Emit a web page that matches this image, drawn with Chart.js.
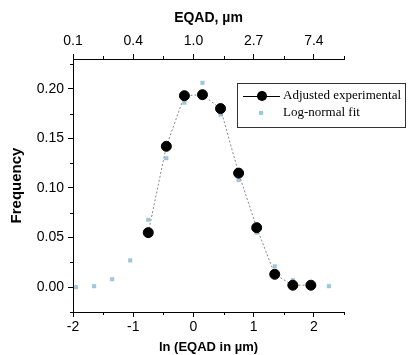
<!DOCTYPE html>
<html><head><meta charset="utf-8">
<script src="https://cdn.jsdelivr.net/npm/chart.js@4.4.0/dist/chart.umd.min.js"></script>
<style>html,body{margin:0;padding:0;background:#fff;} canvas{display:block}</style>
</head><body>
<canvas id="c" width="408" height="355"></canvas>
<script>
// Data
const expX = [-0.75, -0.45, -0.15, 0.15, 0.45, 0.75, 1.05, 1.35, 1.65, 1.95];
const expY = [0.055, 0.142, 0.193, 0.194, 0.180, 0.115, 0.060, 0.013, 0.002, 0.002];
const fitX = [-1.95, -1.65, -1.35, -1.05, -0.75, -0.45, -0.15, 0.15, 0.45, 0.75, 1.05, 1.35, 1.65, 1.95, 2.25];
const fitY = [0.000, 0.001, 0.008, 0.027, 0.068, 0.130, 0.186, 0.206, 0.174, 0.108, 0.055, 0.021, 0.007, 0.002, 0.001];
const xTicks = [-2, -1, 0, 1, 2];
const xMinor = [-1.5, -0.5, 0.5, 1.5, 2.5];
const topTickLabels = ["0.1", "0.4", "1.0", "2.7", "7.4"];
const yTicks = [0, 0.05, 0.10, 0.15, 0.20];
const yMinor = [-0.025, 0.025, 0.075, 0.125, 0.175, 0.225];
const seriesNames = ["Adjusted experimental", "Log-normal fit"];

const FONT = "'Liberation Sans', Arial, sans-serif";
const SERIF = "'Liberation Serif', 'Times New Roman', serif";
const FIT_COLOR = 'rgba(120,195,205,0.8)';
const FIT_BORDER = 'rgba(150,165,225,0.8)';

const extras = {
  id: 'extras',
  afterDraw(chart) {
    const ctx = chart.ctx;
    const xs = chart.scales.x, x2 = chart.scales.x2, ys = chart.scales.y;
    ctx.save();
    ctx.strokeStyle = '#000'; ctx.lineWidth = 1;
    xMinor.forEach(v => {
      const p = Math.round(xs.getPixelForValue(v)) + 0.5;
      ctx.beginPath(); ctx.moveTo(p, xs.top); ctx.lineTo(p, xs.top + 3); ctx.stroke();
      ctx.beginPath(); ctx.moveTo(p, x2.bottom); ctx.lineTo(p, x2.bottom - 3); ctx.stroke();
    });
    yMinor.forEach(v => {
      const p = Math.round(ys.getPixelForValue(v)) + 0.5;
      ctx.beginPath(); ctx.moveTo(ys.right, p); ctx.lineTo(ys.right - 3, p); ctx.stroke();
    });
    // legend
    const bx = 237.5, by = 83.5, bw = 168, bh = 44;
    ctx.strokeStyle = '#333';
    ctx.strokeRect(bx, by, bw, bh);
    const y1 = 96, y2 = 113;
    ctx.strokeStyle = '#000';
    ctx.beginPath(); ctx.moveTo(243, y1 + 0.5); ctx.lineTo(280, y1 + 0.5); ctx.stroke();
    ctx.fillStyle = '#000';
    ctx.beginPath(); ctx.arc(262, y1, 5, 0, Math.PI * 2); ctx.fill();
    ctx.fillStyle = FIT_COLOR;
    ctx.fillRect(259, y2 - 2, 4, 4);
    ctx.fillStyle = '#000';
    ctx.font = '13px ' + SERIF;
    ctx.textBaseline = 'middle'; ctx.textAlign = 'left';
    ctx.fillText(seriesNames[0], 283, y1);
    ctx.fillText(seriesNames[1], 283, y2);
    ctx.restore();
  }
};

const tickFont = { family: FONT, size: 14 };

new Chart(document.getElementById('c'), {
  type: 'scatter',
  data: {
    datasets: [
      {
        label: seriesNames[1],
        data: fitX.map((x, i) => ({ x, y: fitY[i] })),
        showLine: false,
        pointStyle: 'rect',
        pointRadius: 2.5,
        backgroundColor: FIT_COLOR,
        borderColor: FIT_BORDER,
        borderWidth: 0.5,
        order: 2
      },
      {
        label: seriesNames[0],
        data: expX.map((x, i) => ({ x, y: expY[i] })),
        showLine: true,
        borderColor: '#888',
        borderWidth: 1,
        borderDash: [2, 2],
        pointRadius: 5,
        pointBackgroundColor: '#000',
        pointBorderColor: '#000',
        order: 1
      }
    ]
  },
  options: {
    responsive: false,
    animation: false,
    layout: { padding: { left: 0, right: 64, top: 0, bottom: 0 } },
    plugins: { legend: { display: false }, tooltip: { enabled: false } },
    scales: {
      x: {
        type: 'linear', position: 'bottom', min: -2, max: 2.5,
        afterBuildTicks: s => { s.ticks = xTicks.map(v => ({ value: v })); },
        afterFit: s => { s.height = 43; },
        ticks: { font: tickFont, color: '#000', padding: 2, maxRotation: 0, callback: v => String(v) },
        grid: { drawOnChartArea: false, drawTicks: true, tickLength: 5, color: '#000' },
        border: { color: '#000', width: 1 },
        title: { display: true, text: 'ln (EQAD in µm)', color: '#000', font: { family: FONT, size: 13, weight: 'bold' }, padding: { top: 0, bottom: 0 } }
      },
      x2: {
        type: 'linear', position: 'top', min: -2, max: 2.5,
        afterBuildTicks: s => { s.ticks = xTicks.map(v => ({ value: v })); },
        afterFit: s => { s.height = 59; },
        ticks: { font: tickFont, color: '#000', padding: 4, maxRotation: 0, callback: (v, i) => topTickLabels[i] },
        grid: { drawOnChartArea: false, drawTicks: true, tickLength: 5, color: '#000' },
        border: { color: '#000', width: 1 },
        title: { display: true, text: 'EQAD, µm', color: '#000', font: { family: FONT, size: 14, weight: 'bold' }, padding: { top: 10, bottom: 0 } }
      },
      y: {
        type: 'linear', position: 'left', min: -0.025, max: 0.23,
        afterBuildTicks: s => { s.ticks = yTicks.map(v => ({ value: v })); },
        afterFit: s => { s.width = 73; },
        ticks: { font: tickFont, color: '#000', padding: 4, callback: v => v.toFixed(2) },
        grid: { drawOnChartArea: false, drawTicks: true, tickLength: 5, color: '#000' },
        border: { color: '#000', width: 1 },
        title: { display: true, text: 'Frequency', color: '#000', font: { family: FONT, size: 15, weight: 'bold' }, padding: { top: 8, bottom: 0 } }
      }
    }
  },
  plugins: [extras]
});
</script>
</body></html>
